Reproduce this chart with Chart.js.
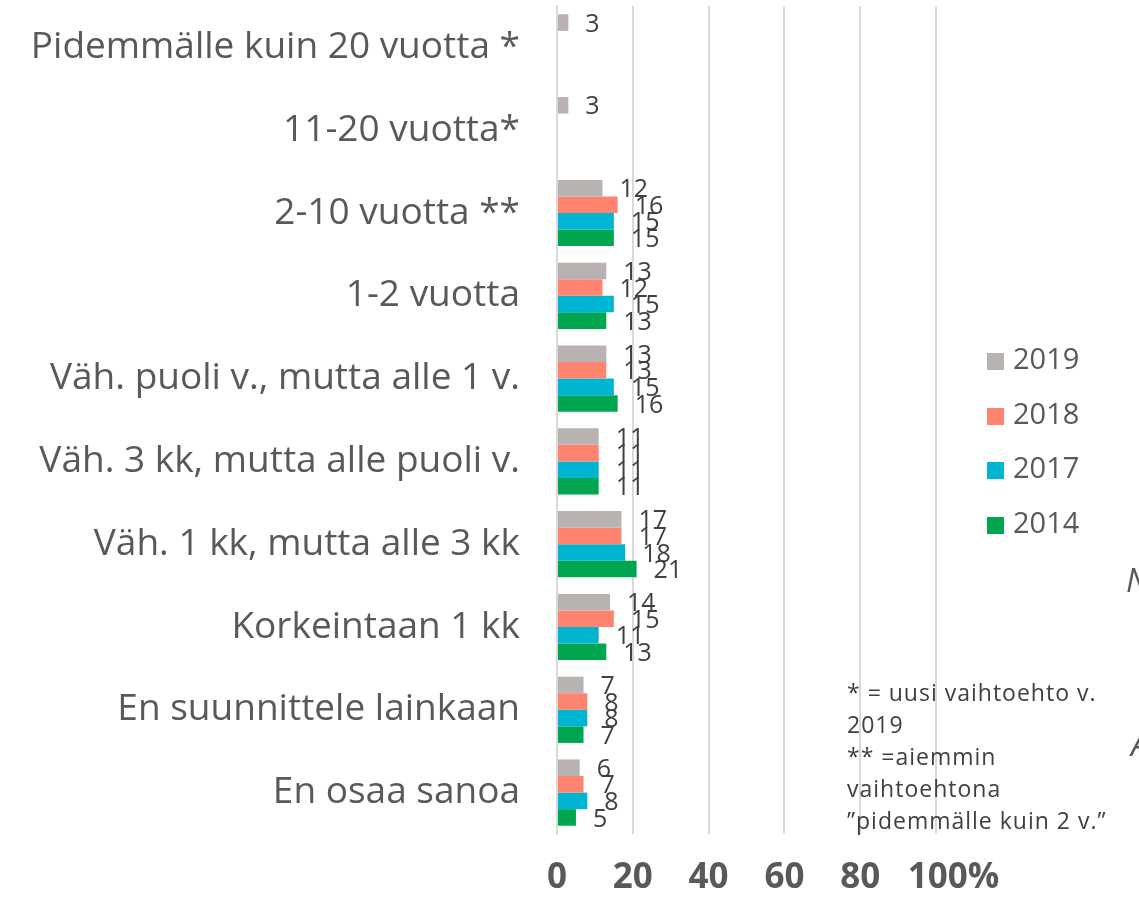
<!DOCTYPE html>
<html>
<head>
<meta charset="utf-8">
<script src="https://cdn.jsdelivr.net/npm/chart.js@4"></script>
<style>
body{margin:0;background:#fff;overflow:hidden;}
#wrap{position:relative;width:1139px;height:898px;overflow:hidden;}
#legend{position:absolute;left:987px;top:331px;font-family:"Open Sans",sans-serif;font-size:29px;color:#595959;}
#legend div{height:54.5px;line-height:54px;white-space:nowrap;}
#legend span{display:inline-block;width:17px;height:17px;margin-right:9px;vertical-align:-1px;}
#note{position:absolute;left:847px;top:676px;font-family:"Open Sans",sans-serif;font-size:23px;letter-spacing:1px;line-height:32px;color:#404040;width:300px;}
.frag{position:absolute;font-family:"Open Sans",sans-serif;font-style:italic;font-size:32px;color:#595959;}
</style>
</head>
<body>
<div id="wrap">
<canvas id="c" width="1139" height="898"></canvas>
<div id="legend"></div>
<div id="note">* = uusi vaihtoehto v.<br>2019<br>** =aiemmin<br>vaihtoehtona<br>”pidemmälle kuin 2 v.”</div>
<div class="frag" style="left:1126px;top:558px;">N</div>
<div class="frag" style="left:1131px;top:722px;">A</div>
</div>
<script>
const labels=['Pidemmälle kuin 20 vuotta *','11-20 vuotta*','2-10 vuotta **','1-2 vuotta','Väh. puoli v., mutta alle 1 v.','Väh. 3 kk, mutta alle puoli v.','Väh. 1 kk, mutta alle 3 kk','Korkeintaan 1 kk','En suunnittele lainkaan','En osaa sanoa'];
const years=['2019','2018','2017','2014'];
const v2019=[3,3,12,13,13,11,17,14,7,6];
const v2018=[null,null,16,12,13,11,17,15,8,7];
const v2017=[null,null,15,15,15,11,18,11,8,8];
const v2014=[null,null,15,13,16,11,21,13,7,5];
const colors=['#b8b3b0','#fe846f','#00b5d1','#00a550'];
const xTicks=[0,20,40,60,80,100];

const font='"Open Sans", sans-serif';
const series=[v2019,v2018,v2017,v2014];

document.getElementById('legend').innerHTML=years.map((y,i)=>
  '<div><span style="background:'+colors[i]+'"></span>'+y+'</div>').join('');

// value labels just past the bar ends
const valueLabels={
  id:'valueLabels',
  afterDatasetsDraw(chart){
    const ctx=chart.ctx;
    ctx.save();
    ctx.font='25px '+font;
    ctx.fillStyle='#404040';
    ctx.textAlign='left';
    ctx.textBaseline='middle';
    chart.data.datasets.forEach((ds,i)=>{
      chart.getDatasetMeta(i).data.forEach((bar,j)=>{
        if(ds.data[j]==null)return;
        ctx.fillText(ds.data[j],bar.x+17,bar.y+2);
      });
    });
    ctx.restore();
  }
};

new Chart(document.getElementById('c'),{
  type:'bar',
  data:{
    labels:labels,
    datasets:years.map((y,i)=>({label:y,data:series[i],backgroundColor:colors[i],categoryPercentage:0.8,barPercentage:1}))
  },
  options:{
    indexAxis:'y',
    responsive:false,
    animation:false,
    layout:{padding:{left:18,right:203,top:6,bottom:0}},
    plugins:{legend:{display:false},tooltip:{enabled:false}},
    scales:{
      x:{
        min:0,max:100,
        afterBuildTicks(s){s.ticks=xTicks.map(v=>({value:v}));},
        afterFit(s){s.height=64;s.paddingLeft=0;s.paddingRight=0;},
        grid:{color:'#d9d9d9',lineWidth:2,drawTicks:false},
        border:{display:false},
        ticks:{padding:23,maxRotation:0,minRotation:0,autoSkip:false,color:'#595959',font:{family:font,size:35,weight:'bold'},callback:v=>v===100?'\u2003100%':v}
      },
      y:{
        afterFit(s){s.width=539;s.paddingTop=0;s.paddingBottom=0;},
        grid:{display:false},
        border:{color:'#d9d9d9',width:2},
        ticks:{padding:29,color:'#595959',font:{family:font,size:37}}
      }
    }
  },
  plugins:[valueLabels]
});
</script>
</body>
</html>
